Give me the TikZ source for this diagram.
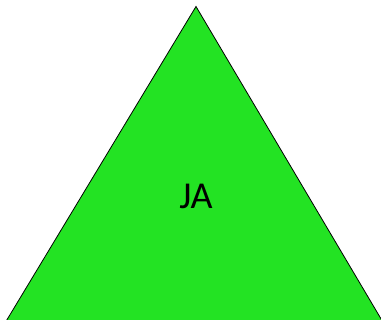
\documentclass[tikz,border=0pt]{standalone}
\usepackage{fontspec}
\setmainfont{Carlito}
\usetikzlibrary{positioning}
\definecolor{trigreen}{HTML}{23E323}

\begin{document}
\begin{tikzpicture}[
    x=1pt, y=-1pt,
    triface/.style={draw=black, line width=0.8pt, fill=trigreen, line join=miter},
    trilbl/.style={draw=none, font=\fontsize{38}{40}\selectfont, text=black},
]
\useasboundingbox (0, 0) rectangle (381, 320);
\coordinate (apex)  at (196, 6.5);
\coordinate (left)  at (6.5, 320.5);
\coordinate (right) at (382, 320.5);

% triangle
\draw[triface] (left) -- (apex) -- (right) -- cycle;
\node[trilbl] (ja) at (196, 196) {JA};
\end{tikzpicture}
\end{document}
